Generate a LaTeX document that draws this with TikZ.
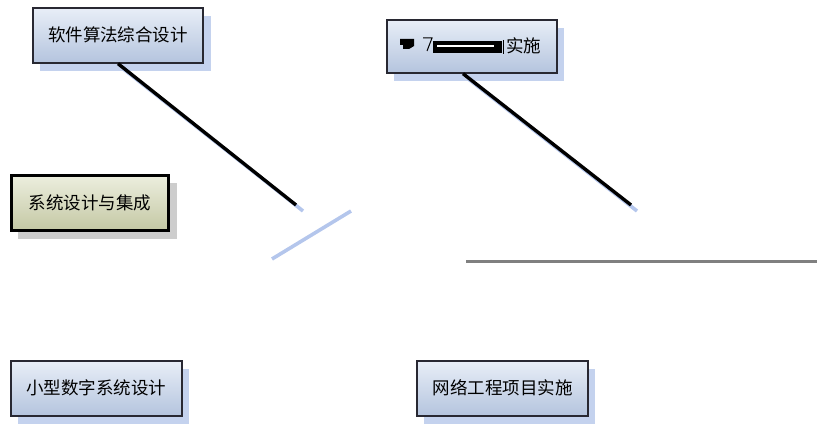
\documentclass[tikz,border=0pt]{standalone}
\usepackage{fontspec}
\newfontfamily\cjk{Noto Sans CJK SC}
\usetikzlibrary{calc}
\begin{document}
\begin{tikzpicture}[x=1pt,y=-1pt,
  bshadow/.style={fill={rgb,255:red,196;green,210;blue,238}},
  gshadow/.style={fill={rgb,255:red,205;green,205;blue,205}},
  bluebox/.style={draw={rgb,255:red,40;green,40;blue,50},line width=1.3pt,top color={rgb,255:red,232;green,238;blue,247},bottom color={rgb,255:red,180;green,196;blue,222}},
  olivebox/.style={draw=black,line width=3pt,top color={rgb,255:red,236;green,238;blue,222},bottom color={rgb,255:red,196;green,200;blue,164}},
  lbl/.style={font=\cjk\fontsize{17.5}{17.5}\selectfont,inner sep=0pt,anchor=center},
  conn/.style={draw=black,line width=3.4pt},
  connsh/.style={draw={rgb,255:red,180;green,198;blue,236},line width=3.6pt}]
\useasboundingbox (0,0) rectangle (817,425);
% shadows
\fill[bshadow] (40,16) rectangle (211,71);
\fill[bshadow] (394,28) rectangle (564,81);
\fill[gshadow] (18,183) rectangle (177,239);
\fill[bshadow] (18,369) rectangle (189,424);
\fill[bshadow] (424,369) rectangle (595,424);
% boxes
\node[bluebox,minimum width=170pt,minimum height=55pt,inner sep=0pt] (b1) at (118,35.5) {};
\node[bluebox,minimum width=170pt,minimum height=53pt,inner sep=0pt] (b2) at (472,46.5) {};
\node[olivebox,minimum width=157pt,minimum height=55pt,inner sep=0pt] (b3) at (90,203) {};
\node[bluebox,minimum width=171pt,minimum height=55pt,inner sep=0pt] (b4) at (96.5,388.5) {};
\node[bluebox,minimum width=171pt,minimum height=55pt,inner sep=0pt] (b5) at (502.5,388.5) {};
% connectors
\coordinate (c1a) at ($(b1.south)+(0,0)$);
\coordinate (c2a) at ($(b2.south)+(-9,0)$);
\coordinate (e1) at (296,205);
\coordinate (e2) at (631,205);
\coordinate (e1s) at (303,211);
\coordinate (e2s) at (637,211);
\coordinate (s1) at (272,259); \coordinate (s2) at (351,211);
\coordinate (g1) at (466,261); \coordinate (g2) at (817,261);
\draw[connsh] ($(c1a)+(5,5)$) -- (e1s);
\draw[connsh] ($(c2a)+(5,5)$) -- (e2s);
\draw[connsh] (s1) -- (s2);
\draw[conn] (c1a) -- (e1);
\draw[conn] (c2a) -- (e2);
\draw[draw={rgb,255:red,128;green,128;blue,128},line width=3pt] (g1) -- (g2);
% labels
\node[lbl] (t1) at (118,35) {软件算法综合设计};
\node[lbl] (t3) at (90,203) {系统设计与集成};
\node[lbl] (t4) at (96.5,388) {小型数字系统设计};
\node[lbl] (t5) at (502.5,388) {网络工程项目实施};
\node[lbl,anchor=west] (t2) at (506,46) {实施};
% garbled glyphs
\fill[black] (400,39) -- (414,39) -- (414,46) -- (409,49) -- (403,49) -- (403,45) -- (400,45) -- cycle;
\draw[black,line width=1pt] (423,38) -- (432,38) -- (427,51);
\fill[black] (433,41) rectangle (502,53);
\fill[white] (437,45) rectangle (494,47);
\draw[black,line width=0.8pt] (503,40) -- (503,54);
\end{tikzpicture}
\end{document}
